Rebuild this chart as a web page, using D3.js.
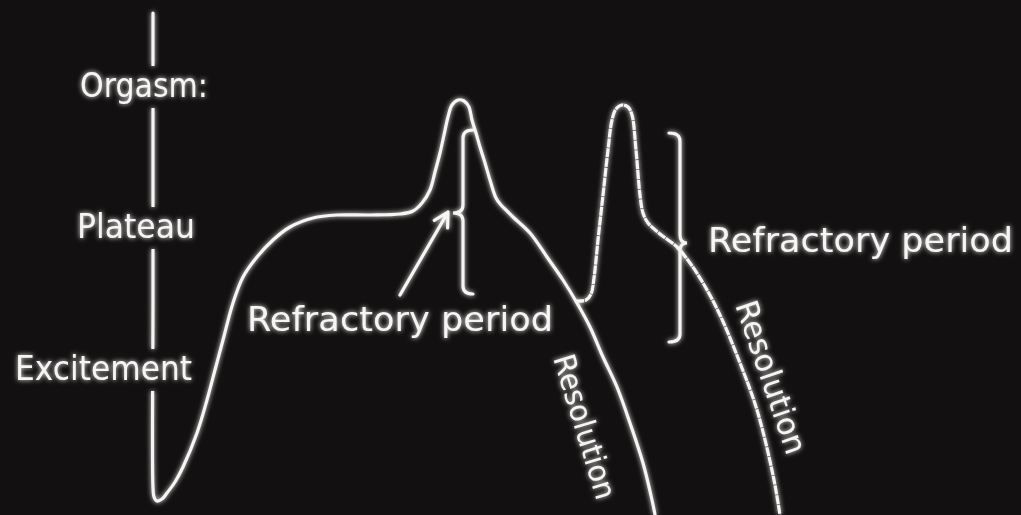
<!DOCTYPE html>
<html>
<head>
<meta charset="utf-8">
<script src="https://cdn.jsdelivr.net/npm/d3@7"></script>
<style>
  html, body { margin: 0; padding: 0; background: #121010; overflow: hidden; }
  svg { display: block; }
  .label { font-family: "DejaVu Sans", sans-serif; fill: #f7f5f3; }
</style>
</head>
<body>
<div id="chart"></div>
<script>
// phases on the arousal axis (baseline level of each label)
var levelNames = ["Orgasm:", "Plateau", "Excitement"];
var levelValues = [100.75, 65.5, 30];

// single response: axis down to rest, excitement, plateau, orgasm, resolution
var responseTime = [0, 0, 0, 0.125, 0.5, 1.125, 1.75, 2.75, 3.75, 5.5, 6.75, 7.75, 8.75, 10,
  11.25, 13, 15, 17.125, 20, 23, 27.125, 30.875, 32.5, 33.625, 34.625, 35.25, 35.875,
  36.375, 36.875, 37.375, 38.125, 38.875, 39.5, 39.875, 40.375, 40.875, 41.5, 42.125,
  42.875, 43.5, 44.25, 45, 47.125, 49.25, 51.25, 53, 54.625, 56.25, 58, 59.625, 61.25,
  62.375, 62.875];
var responseLevel = [121.75, 50, 3, 0.75, -0.25, 0.25, 1.75, 4.5, 8.25, 16.75, 25, 32.5, 40, 49.25,
  55.75, 60.75, 65, 68.25, 70.5, 71.25, 71.25, 71.5, 72.25, 74.25, 77.5, 82, 86.75,
  91.25, 95.75, 98.75, 100, 99.75, 98.25, 95, 91.75, 88.25, 84.25, 80,
  75.5, 73.75, 72.25, 70.75, 66.75, 60.75, 55, 49.25, 43.25, 35.75, 28.25, 19.25, 9.25,
  0, -5];

// second orgasm branching off the resolution curve
var repeatTime = [52.75, 54.125, 54.75, 55.125, 55.625, 56.25, 56.875, 57.375, 57.875, 58.625,
  59.375, 59.875, 60.375, 60.875, 61.25, 61.875, 63.375, 65.5, 67.125, 68.75, 70.875,
  73.375, 75.5, 77.5, 78.375];
var repeatLevel = [49.75, 50, 51.5, 55.5, 65, 76.25, 87.5, 95, 97.75, 98.75,
  98.25, 96.25, 87.5, 76.25, 71.75, 69.25, 66.5, 63.25, 59.25, 54.25, 46.25,
  34.25, 22.5, 6.25, -3.75];

// refractory period braces
var braceTime = [38.75, 65.875];
var braceEndTime = [40, 64.5];
var braceTipTime = [37.5, 66.75];
var braceTop = [92.5, 91.75];
var braceTip = [71.75, 64.25];
var braceBottom = [51.5, 39.5];

// arrow pointing at the first brace
var arrowTime = [30.875, 36.875];
var arrowLevel = [51.25, 72];

var svgWidth = 1021;
var svgHeight = 515;
var bg = "#121010";
var lineColor = "#f7f5f3";

var svg = d3.select("#chart")
  .append("svg")
  .attr("width", svgWidth)
  .attr("height", svgHeight);

svg.append("rect")
  .attr("width", svgWidth)
  .attr("height", svgHeight)
  .attr("fill", bg);

var defs = svg.append("defs");
var glow = defs.append("filter")
  .attr("id", "glow")
  .attr("x", "-20%").attr("y", "-20%")
  .attr("width", "140%").attr("height", "140%");
glow.append("feGaussianBlur")
  .attr("in", "SourceGraphic")
  .attr("stdDeviation", 2.4)
  .attr("result", "blur");
var merge = glow.append("feMerge");
merge.append("feMergeNode").attr("in", "blur");
merge.append("feMergeNode").attr("in", "SourceGraphic");

var x = d3.scaleLinear().domain([0, 100]).range([153, 953]);
var y = d3.scaleLinear().domain([0, 100]).range([500, 100]);

var g = svg.append("g").attr("filter", "url(#glow)");

var line = d3.line()
  .x(d => x(d[0]))
  .y(d => y(d[1]))
  .curve(d3.curveCatmullRom.alpha(0.5));

// main curve (includes the vertical axis)
var mainPath = g.append("path")
  .datum(d3.zip(responseTime, responseLevel))
  .attr("d", line)
  .attr("fill", "none")
  .attr("stroke", lineColor)
  .attr("stroke-width", 3.2)
  .attr("stroke-linecap", "round")
  .attr("stroke-linejoin", "round");

// second orgasm, drawn with the faint scan breaks
g.append("path")
  .datum(d3.zip(repeatTime, repeatLevel))
  .attr("d", line)
  .attr("fill", "none")
  .attr("stroke", lineColor)
  .attr("stroke-width", 3.2)
  .attr("stroke-dasharray", "9,0.8")
  .attr("stroke-linejoin", "round");

// braces
function bracePath(i) {
  var bx = x(braceTime[i]), ex = x(braceEndTime[i]), tx = x(braceTipTime[i]);
  var yt = y(braceTop[i]), yc = y(braceTip[i]), yb = y(braceBottom[i]);
  var r = 8;
  var p = d3.path();
  p.moveTo(ex, yt);
  p.quadraticCurveTo(bx, yt, bx, yt + r);
  p.lineTo(bx, yc - r);
  p.quadraticCurveTo(bx, yc, tx, yc);
  p.quadraticCurveTo(bx, yc, bx, yc + r);
  p.lineTo(bx, yb - r);
  p.quadraticCurveTo(bx, yb, ex, yb);
  return p.toString();
}

g.selectAll(".brace")
  .data(braceTime)
  .enter()
  .append("path")
  .attr("class", "brace")
  .attr("d", (d, i) => bracePath(i))
  .attr("fill", "none")
  .attr("stroke", lineColor)
  .attr("stroke-width", 3.2)
  .attr("stroke-linecap", "round");

// arrow
var ax0 = x(arrowTime[0]), ay0 = y(arrowLevel[0]);
var ax1 = x(arrowTime[1]), ay1 = y(arrowLevel[1]);
var ang = Math.atan2(ay1 - ay0, ax1 - ax0);
var wing = 16;
var arrow = d3.path();
arrow.moveTo(ax0, ay0);
arrow.lineTo(ax1, ay1);
arrow.moveTo(ax1 - wing * Math.cos(ang - 0.5), ay1 - wing * Math.sin(ang - 0.5));
arrow.lineTo(ax1, ay1);
arrow.lineTo(ax1 - wing * Math.cos(ang + 0.5), ay1 - wing * Math.sin(ang + 0.5));
g.append("path")
  .attr("d", arrow.toString())
  .attr("fill", "none")
  .attr("stroke", lineColor)
  .attr("stroke-width", 3.2)
  .attr("stroke-linecap", "round")
  .attr("stroke-linejoin", "round");

// phase labels on the axis; the axis line is masked where they sit
var levelStart = [-9.125, -9.5, -17.25];
var levelWidth = [128, 118, 177];
var mask = defs.append("mask")
  .attr("id", "axisGaps")
  .attr("maskUnits", "userSpaceOnUse")
  .attr("x", 0).attr("y", 0)
  .attr("width", svgWidth).attr("height", svgHeight);
mask.append("rect")
  .attr("width", svgWidth)
  .attr("height", svgHeight)
  .attr("fill", "white");

levelNames.forEach(function(name, i) {
  var t = g.append("text")
    .attr("class", "label")
    .attr("x", x(levelStart[i]))
    .attr("y", y(levelValues[i]))
    .attr("font-size", 34)
    .attr("textLength", levelWidth[i])
    .attr("lengthAdjust", "spacingAndGlyphs")
    .text(name);
  var bb = t.node().getBBox();
  mask.append("rect")
    .attr("x", x(0) - 8)
    .attr("width", 16)
    .attr("y", bb.y + 1)
    .attr("height", bb.height + 2)
    .attr("fill", "black");
});
mainPath.attr("mask", "url(#axisGaps)");

// annotations
var notes = [
  {text: "Refractory period", t: 11.75, a: 42.25, size: 34, len: 306, rot: 0},
  {text: "Refractory period", t: 69.375, a: 62, size: 34, len: 305, rot: 0},
  {text: "Resolution", t: 50, a: 35.5, size: 30, len: 150, rot: 73},
  {text: "Resolution", t: 72.75, a: 48.75, size: 31, len: 160, rot: 71}
];

g.selectAll(".note")
  .data(notes)
  .enter()
  .append("text")
  .attr("class", "label note")
  .attr("transform", d => `translate(${x(d.t)}, ${y(d.a)}) rotate(${d.rot})`)
  .attr("font-size", d => d.size)
  .attr("textLength", d => d.len)
  .attr("lengthAdjust", "spacingAndGlyphs")
  .text(d => d.text);
</script>
</body>
</html>
